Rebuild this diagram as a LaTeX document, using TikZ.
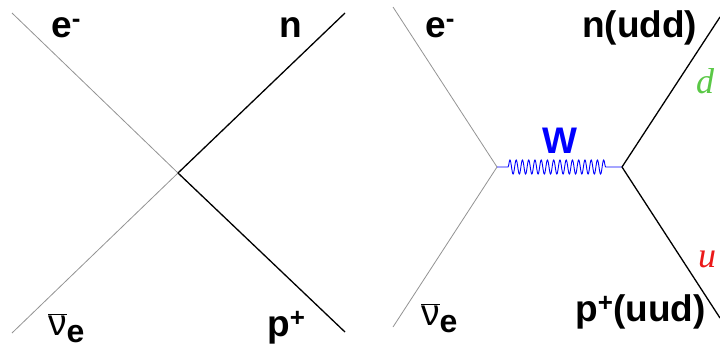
\documentclass[tikz,border=0pt]{standalone}
\usepackage{fontspec}
\setmainfont{Liberation Sans}
\newfontfamily\quarkfont{Liberation Serif}
\usetikzlibrary{decorations.pathmorphing}
\definecolor{quarkgreen}{RGB}{90,200,70}
\definecolor{quarkred}{RGB}{235,25,25}

\begin{document}
\begin{tikzpicture}[
    x=1pt, y=-1pt,
    font=\fontsize{37}{40}\selectfont\bfseries,
    lepton/.style={draw=gray!85, line width=0.8pt},
    hadron/.style={draw=black, line width=1.3pt},
    boson/.style={draw=blue, line width=0.9pt, decorate, decoration={snake, amplitude=7pt, segment length=6.25pt, pre length=11pt, post length=14pt}},
    plabel/.style={anchor=base west, inner sep=0pt},
    quark/.style={anchor=base west, inner sep=0pt, font=\fontsize{36}{40}\selectfont\quarkfont\itshape}
  ]
  \useasboundingbox (0,0) rectangle (720,349);

  % Left: Fermi contact interaction
  \coordinate (vxL) at (178,173);
  \coordinate (eL) at (12,13);
  \coordinate (nuL) at (12,333);
  \coordinate (nL) at (345,13);
  \coordinate (pL) at (345,332);

  \draw[lepton] (eL) -- (vxL);
  \draw[lepton] (nuL) -- (vxL);
  \draw[hadron] (vxL) -- (nL);
  \draw[hadron] (vxL) -- (pL);

  \node (eLlab) at (51,37) [plabel] {e\textsuperscript{-}};
  \node (nLlab) at (279,37) [plabel] {n};
  \node (nuLlab) at (48,335) [plabel] {$\overline{\hbox{\mdseries ν}}$\raisebox{-7pt}{\fontsize{32}{34}\selectfont e}};
  \node (pLlab) at (267,336) [plabel] {p\textsuperscript{+}};

  % Right: W boson exchange
  \coordinate (wL) at (497,167);
  \coordinate (wR) at (622,167);
  \coordinate (eR) at (393,7);
  \coordinate (nuR) at (393,327);
  \coordinate (nR) at (720,17);
  \coordinate (pR) at (720,318);

  \draw[lepton] (eR) -- (wL);
  \draw[lepton] (nuR) -- (wL);
  \draw[boson] (wL) -- (wR);
  \draw[hadron] (wR) -- (nR);
  \draw[hadron] (wR) -- (pR);

  \node (wlab) at (560,153) [anchor=base, inner sep=0pt, text=blue] {W};
  \node (eRlab) at (425,37) [plabel] {e\textsuperscript{-}};
  \node (nRlab) at (582,37) [plabel] {n(udd)};
  \node (nuRlab) at (421,325) [plabel] {$\overline{\hbox{\mdseries ν}}$\raisebox{-7pt}{\fontsize{32}{34}\selectfont e}};
  \node (pRlab) at (575,321) [plabel] {p\textsuperscript{+}(uud)};
  \node (dlab) at (696,93) [quark, text=quarkgreen] {d};
  \node (ulab) at (698,267) [quark, text=quarkred] {u};

\end{tikzpicture}
\end{document}
